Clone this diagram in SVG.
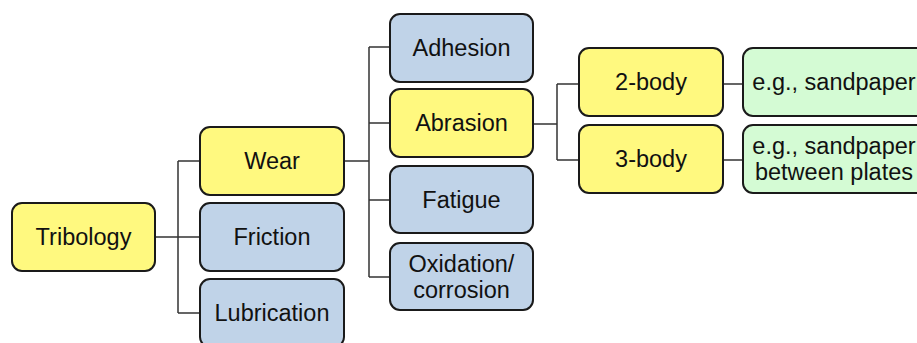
<svg xmlns="http://www.w3.org/2000/svg" width="917" height="343" viewBox="0 0 917 343">
<style>
.n{stroke:#1a1a1a;stroke-width:2}
.y{fill:#fff97f}
.b{fill:#c0d3e8}
.g{fill:#d4fbd4}
.t{font-family:"Liberation Sans",Arial,sans-serif;font-size:23.5px;fill:#111;text-anchor:middle}
.c{fill:none;stroke:#333;stroke-width:1.5}
</style>
<rect width="917" height="343" fill="#fff"/>
<g id="connectors">
<path class="c" d="M155 237H178M178 161V313M178 161H200M178 237H200M178 313H200"/>
<path class="c" d="M344 161H369M369 47V277M369 47H390M369 123H390M369 200H390M369 277H390"/>
<path class="c" d="M533 124H557M557 84V160M557 84H579M557 160H579"/>
<path class="c" d="M723 84H743M723 160H743"/>
</g>
<g id="tribology"><rect class="n y" x="12" y="203" width="143" height="68" rx="10"/><text class="t" x="83.5" y="245">Tribology</text></g>
<g id="wear"><rect class="n y" x="200" y="127" width="144" height="68" rx="10"/><text class="t" x="272" y="169">Wear</text></g>
<g id="friction"><rect class="n b" x="200" y="203" width="144" height="68" rx="10"/><text class="t" x="272" y="245">Friction</text></g>
<g id="lubrication"><rect class="n b" x="200" y="279" width="144" height="68" rx="10"/><text class="t" x="272" y="321">Lubrication</text></g>
<g id="adhesion"><rect class="n b" x="390" y="14" width="143" height="68" rx="10"/><text class="t" x="461.5" y="56">Adhesion</text></g>
<g id="abrasion"><rect class="n y" x="390" y="89" width="143" height="68" rx="10"/><text class="t" x="461.5" y="131">Abrasion</text></g>
<g id="fatigue"><rect class="n b" x="390" y="166" width="143" height="67" rx="10"/><text class="t" x="461.5" y="208">Fatigue</text></g>
<g id="oxidation"><rect class="n b" x="390" y="243" width="143" height="67" rx="10"/><text class="t" x="461.5" y="272">Oxidation/</text><text class="t" x="461.5" y="298">corrosion</text></g>
<g id="two-body"><rect class="n y" x="579" y="48" width="144" height="68" rx="10"/><text class="t" x="651" y="90">2-body</text></g>
<g id="three-body"><rect class="n y" x="579" y="125" width="144" height="68" rx="10"/><text class="t" x="651" y="167">3-body</text></g>
<g id="ex-2body"><rect class="n g" x="743" y="48" width="200" height="68" rx="10"/><text class="t" x="834" y="90">e.g., sandpaper</text></g>
<g id="ex-3body"><rect class="n g" x="743" y="125" width="200" height="68" rx="10"/><text class="t" x="834" y="154">e.g., sandpaper</text><text class="t" x="834" y="180">between plates</text></g>
</svg>
